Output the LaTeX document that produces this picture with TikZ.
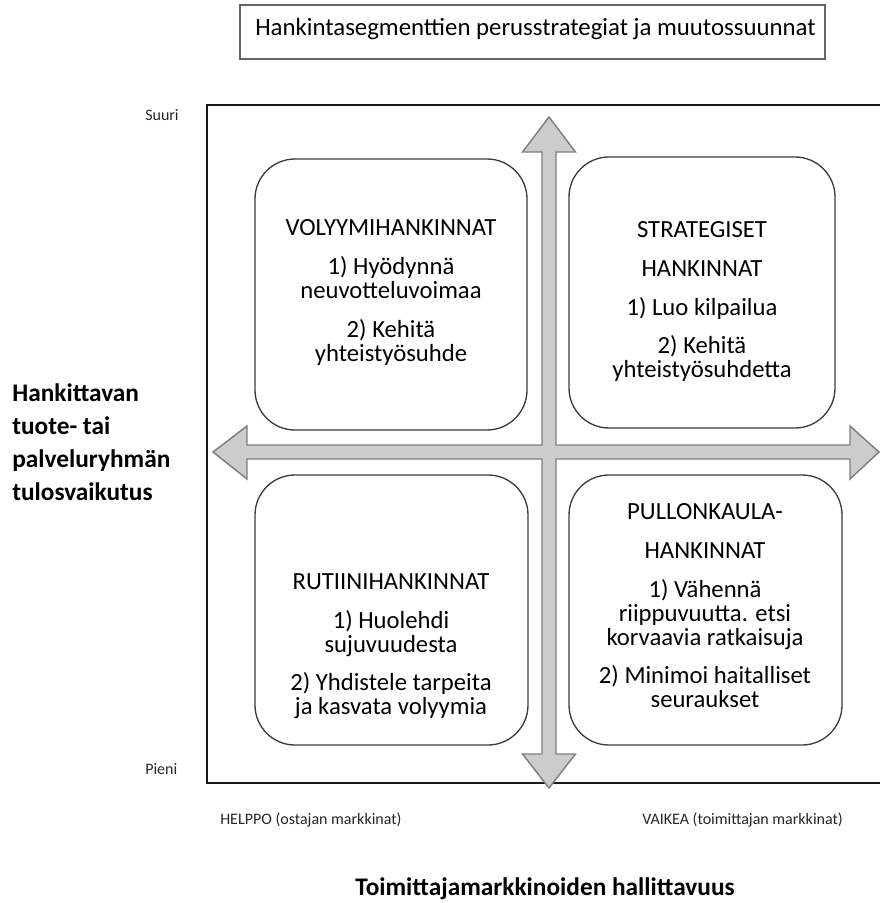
\documentclass[tikz,border=0pt]{standalone}
\usepackage{fontspec}
\setmainfont{Carlito}
\definecolor{arrowfill}{HTML}{CCCCCC}
\definecolor{arrowline}{HTML}{7F7F7F}
\definecolor{boxline}{HTML}{3C3C3C}
\begin{document}
\begin{tikzpicture}[x=0.75pt,y=-0.75pt,
  quad/.style={draw=boxline, line width=1pt, rounded corners=30pt},
  qtext/.style={align=center, anchor=north, inner sep=0pt, font=\fontsize{18.5}{18}\selectfont},
  small/.style={inner sep=0pt, font=\fontsize{12}{14}\selectfont, text=black!85},
  axislabel/.style={inner sep=0pt, font=\fontsize{19}{24.75}\selectfont\bfseries}]
\useasboundingbox (0,0) rectangle (880,903);
% title
\draw[draw=black!60, line width=0.8pt] (240,5) rectangle (825,59);
\node[anchor=base west, inner sep=0pt, font=\fontsize{18.6}{20}\selectfont] (title) at (255,36) {Hankintasegmenttien perusstrategiat ja muutossuunnat};
% frame
\draw[line width=1.6pt, draw=black!90] (884,105) -- (207,105) -- (207,783) -- (884,783);
% cross arrows
\draw[fill=arrowfill, draw=arrowline, line width=1.1pt, line join=miter]
  (549,117) -- (575.5,152) -- (556,152) -- (556,445) -- (850,445) -- (850,426) -- (879,452)
  -- (850,479) -- (850,459) -- (556,459) -- (556,754) -- (575.5,754) -- (549,788)
  -- (522.5,754) -- (542,754) -- (542,459) -- (247,459) -- (247,479) -- (213,452)
  -- (247,426) -- (247,445) -- (542,445) -- (542,152) -- (522.5,152) -- cycle;
% quadrant boxes
\draw[quad] (255,159) rectangle (527,430);
\draw[quad] (569,157) rectangle (835,428);
\draw[quad] (255,475) rectangle (528,745);
\draw[quad] (569,475) rectangle (842,745);
\node[qtext] (vol) at (391,219.5) {VOLYYMIHANKINNAT\\[11pt]1) Hyödynnä\\neuvotteluvoimaa\\[11pt]2) Kehitä\\yhteistyösuhde};
\node[qtext] (str) at (702,221.5) {STRATEGISET\\[11pt]HANKINNAT\\[11pt]1) Luo kilpailua\\[11pt]2) Kehitä\\yhteistyösuhdetta};
\node[qtext] (rut) at (391,573.5) {RUTIINIHANKINNAT\\[11pt]1) Huolehdi\\sujuvuudesta\\[11pt]2) Yhdistele tarpeita\\ja kasvata volyymia};
\node[qtext] (pul) at (705,503.5) {PULLONKAULA-\\[11pt]HANKINNAT\\[11pt]1) Vähennä\\riippuvuutta. etsi\\korvaavia ratkaisuja\\[11pt]2) Minimoi haitalliset\\seuraukset};
% small labels
\node[small, anchor=base west] (suuri) at (145,120) {Suuri};
\node[small, anchor=base west] (pieni) at (145,774) {Pieni};
\node[small, anchor=base west] (helppo) at (220,824) {HELPPO (ostajan markkinat)};
\node[small, anchor=base west] (vaikea) at (642,824) {VAIKEA (toimittajan markkinat)};
% axis labels
\node[axislabel, align=left, anchor=base west] (yaxis) at (12,500) {Hankittavan\\tuote- tai\\palveluryhmän\\tulosvaikutus};
\node[axislabel, anchor=base] (xaxis) at (545,895) {Toimittajamarkkinoiden hallittavuus};
\end{tikzpicture}
\end{document}
